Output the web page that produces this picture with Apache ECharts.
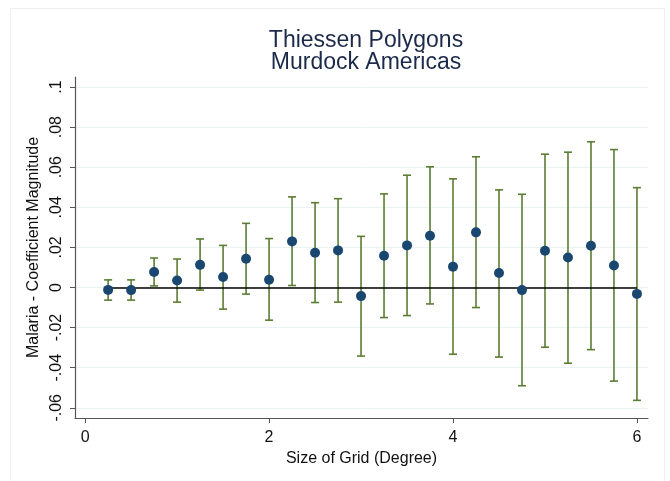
<!DOCTYPE html>
<html>
<head>
<meta charset="utf-8">
<script src="https://cdn.jsdelivr.net/npm/echarts@6/dist/echarts.min.js"></script>
<style>
  html, body { margin: 0; padding: 0; background: #ffffff; }
  #chart { width: 670px; height: 481px; }
</style>
</head>
<body>
<div id="chart"></div>
<script>
// Grid sizes (degrees) at which the coefficient was estimated
const gridSizes = [0.25, 0.5, 0.75, 1.0, 1.25, 1.5, 1.75, 2.0, 2.25, 2.5, 2.75, 3.0,
                   3.25, 3.5, 3.75, 4.0, 4.25, 4.5, 4.75, 5.0, 5.25, 5.5, 5.75, 6.0];
// Point estimates
const coefficients = [-0.0012, -0.0013, 0.0077, 0.0035, 0.0113, 0.0052, 0.0143, 0.0039,
                      0.0230, 0.0173, 0.0185, -0.0043, 0.0158, 0.0210, 0.0258, 0.0104,
                      0.0275, 0.0072, -0.0013, 0.0183, 0.0150, 0.0208, 0.0110, -0.0032];
// Confidence interval bounds
const ciLower = [-0.0063, -0.0063, 0.0008, -0.0073, -0.0013, -0.0108, -0.0033, -0.0163,
                 0.0010, -0.0075, -0.0073, -0.0342, -0.0150, -0.0140, -0.0082, -0.0333,
                 -0.0100, -0.0347, -0.0490, -0.0298, -0.0378, -0.0310, -0.0467, -0.0563];
const ciUpper = [0.0038, 0.0038, 0.0147, 0.0142, 0.0242, 0.0210, 0.0320, 0.0244,
                 0.0452, 0.0423, 0.0443, 0.0255, 0.0467, 0.0560, 0.0602, 0.0542,
                 0.0652, 0.0487, 0.0465, 0.0665, 0.0675, 0.0727, 0.0688, 0.0498];
// Axis ticks
const xTicks = [0, 2, 4, 6];
const yTicks = [-0.06, -0.04, -0.02, 0, 0.02, 0.04, 0.06, 0.08, 0.1];

const titleText = 'Thiessen Polygons\nMurdock Americas';
const xName = 'Size of Grid (Degree)';
const yName = 'Malaria - Coefficient Magnitude';

// Stata-style number format: drop the leading zero (".08", "-.06")
function stataFmt(v) {
  if (Math.abs(v) < 1e-12) return '0';
  let s = String(Math.round(v * 1000) / 1000);
  return s.replace(/^(-?)0\./, '$1.');
}

const pointData = gridSizes.map((x, i) => [x, coefficients[i]]);
const barData = gridSizes.map((x, i) => [x, ciLower[i], ciUpper[i]]);

const chart = echarts.init(document.getElementById('chart'), null, { renderer: 'canvas' });

const FONT = 'Liberation Sans, Arial, sans-serif';
const barColor = '#5a7d33';
const dotColor = '#1a476f';

chart.setOption({
  animation: false,
  backgroundColor: '#ffffff',
  graphic: [{
    type: 'rect',
    shape: { x: 10.5, y: 8.5, width: 654, height: 480 },
    style: { fill: null, stroke: '#eeeeee', lineWidth: 1 },
    z: -10
  }],
  title: {
    text: titleText,
    left: 361,
    textAlign: 'center',
    top: 25,
    textStyle: {
      fontFamily: FONT, fontSize: 23, fontWeight: 'normal',
      color: '#1c2a4a', lineHeight: 22
    }
  },
  grid: { left: 75, right: 22, top: 77, bottom: 63, containLabel: false },
  xAxis: {
    type: 'value',
    min: -0.11,
    max: 6.12,
    name: xName,
    nameLocation: 'middle',
    nameGap: 30,
    nameTextStyle: { fontFamily: FONT, fontSize: 16, color: '#111111' },
    axisLine: { show: true, onZero: false, lineStyle: { color: '#555555', width: 1.2 } },
    axisTick: { show: true, length: 5, customValues: xTicks, lineStyle: { color: '#555555' } },
    axisLabel: {
      customValues: xTicks, margin: 12,
      fontFamily: FONT, fontSize: 16, color: '#111111',
      formatter: v => String(v)
    },
    splitLine: { show: false }
  },
  yAxis: {
    type: 'value',
    min: -0.0651,
    max: 0.105,
    name: yName,
    nameLocation: 'middle',
    nameGap: 22,
    nameRotate: 90,
    nameTextStyle: { fontFamily: FONT, fontSize: 16, color: '#111111' },
    axisLine: { show: true, onZero: false, lineStyle: { color: '#555555', width: 1.2 } },
    axisTick: { show: true, length: 5, customValues: yTicks, lineStyle: { color: '#555555' } },
    axisLabel: {
      customValues: yTicks, rotate: 90, margin: 10,
      fontFamily: FONT, fontSize: 16, color: '#111111',
      formatter: v => stataFmt(v)
    },
    splitLine: { show: true, lineStyle: { color: '#eaf2f3', width: 1 } }
  },
  series: [
    {
      // confidence interval caps
      type: 'custom',
      name: 'CI',
      data: barData,
      z: 2,
      renderItem: function (params, api) {
        const x = api.value(0);
        const lo = api.coord([x, api.value(1)]);
        const hi = api.coord([x, api.value(2)]);
        const half = 4;
        const style = { stroke: barColor, lineWidth: 1.6, fill: null };
        return {
          type: 'group',
          children: [
            { type: 'line', shape: { x1: lo[0], y1: lo[1], x2: hi[0], y2: hi[1] }, style },
            { type: 'line', shape: { x1: lo[0] - half, y1: lo[1], x2: lo[0] + half, y2: lo[1] }, style },
            { type: 'line', shape: { x1: hi[0] - half, y1: hi[1], x2: hi[0] + half, y2: hi[1] }, style }
          ]
        };
      }
    },
    {
      type: 'scatter',
      name: 'Coefficient',
      data: pointData,
      symbol: 'circle',
      symbolSize: 10,
      itemStyle: { color: dotColor, opacity: 1 },
      z: 4,
      markLine: {
        silent: true,
        symbol: ['none', 'none'],
        z: 3,
        label: { show: false },
        lineStyle: { color: '#000000', width: 1.5, type: 'solid' },
        data: [[
          { coord: [gridSizes[0], 0] },
          { coord: [gridSizes[gridSizes.length - 1], 0] }
        ]]
      }
    }
  ]
});
</script>
</body>
</html>
